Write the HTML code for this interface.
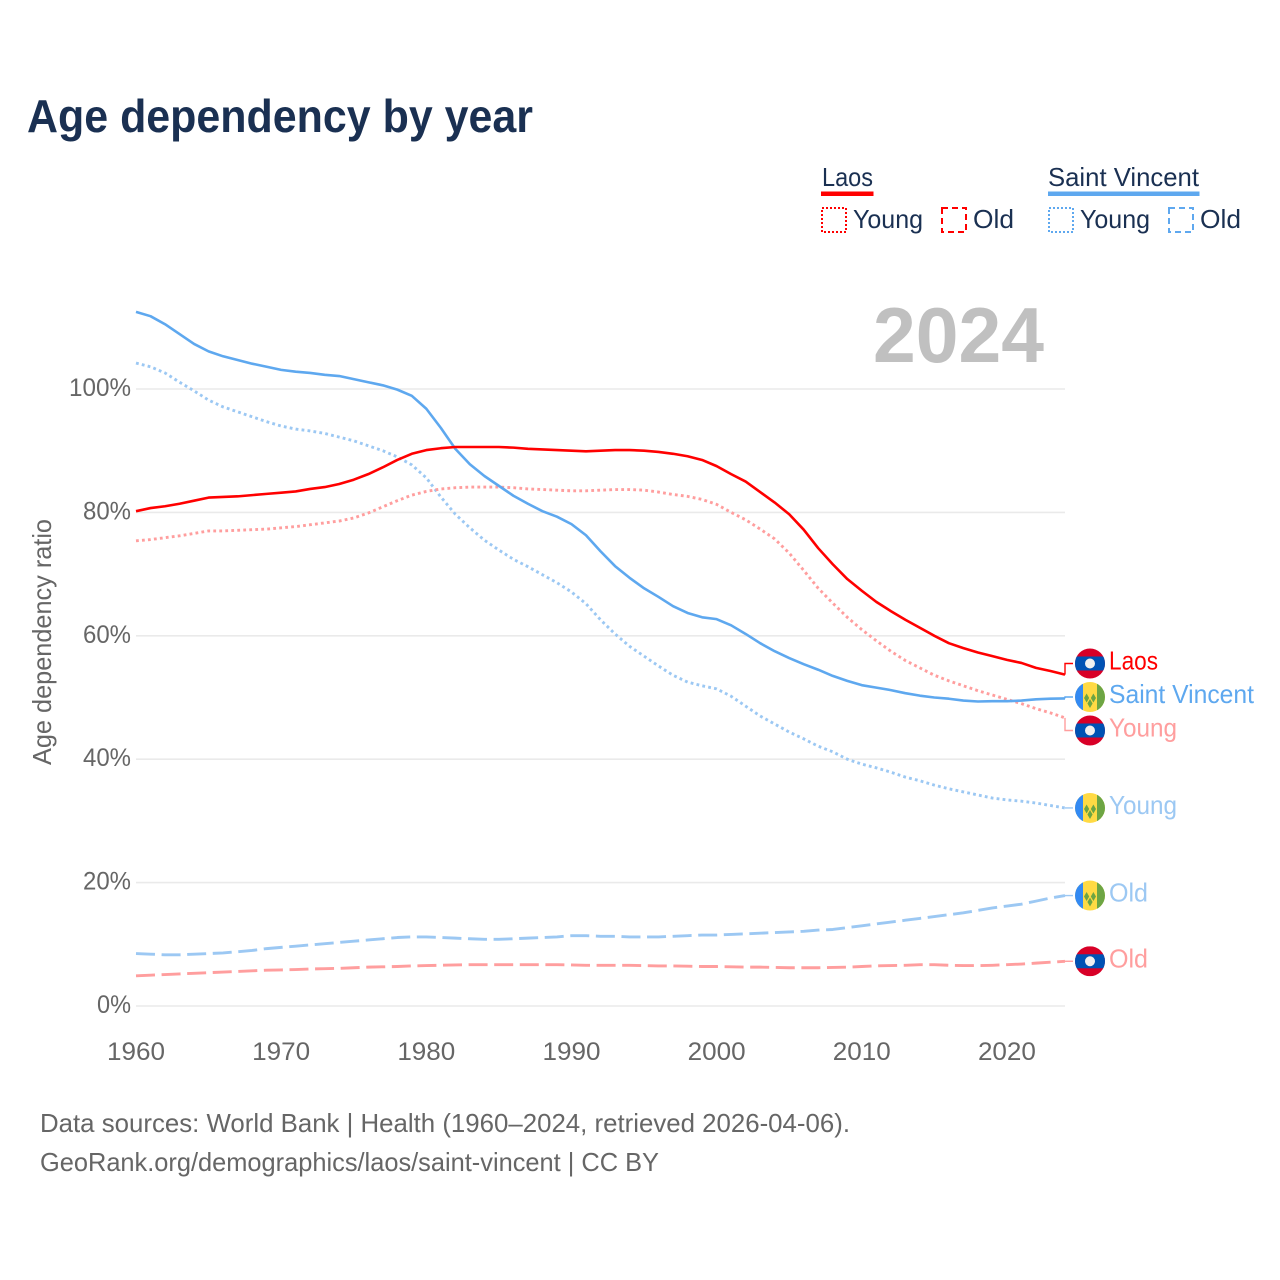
<!DOCTYPE html>
<html lang="en">
<head>
<meta charset="utf-8">
<title>Age dependency by year</title>
<style>
html,body{margin:0;padding:0;background:#fff;width:1280px;height:1280px;overflow:hidden}
svg{display:block}
text{font-family:"Liberation Sans",sans-serif}
</style>
</head>
<body>
<svg id="chart" xmlns="http://www.w3.org/2000/svg" width="1280" height="1280" viewBox="0 0 1280 1280">
  <rect x="0" y="0" width="1280" height="1280" fill="#fff"/>
  <text x="27" y="132" font-size="46" font-weight="700" fill="#1a3052" textLength="506" lengthAdjust="spacingAndGlyphs">Age dependency by year</text>

  <g font-size="26" fill="#1a3052">
    <text x="822" y="186" textLength="51" lengthAdjust="spacingAndGlyphs">Laos</text>
    <rect x="821" y="191.5" width="52.5" height="4.5" fill="#ff0000"/>
    <rect x="822" y="208" width="24" height="24" fill="none" stroke="#ff0000" stroke-width="2" stroke-dasharray="2 2"/>
    <text x="853" y="228" textLength="70" lengthAdjust="spacingAndGlyphs">Young</text>
    <rect x="942" y="208" width="24" height="24" fill="none" stroke="#ff0000" stroke-width="2" stroke-dasharray="6 4"/>
    <text x="973" y="228" textLength="41" lengthAdjust="spacingAndGlyphs">Old</text>
    <text x="1048" y="186" textLength="151" lengthAdjust="spacingAndGlyphs">Saint Vincent</text>
    <rect x="1048" y="191.5" width="151.5" height="4.5" fill="#5ea8ef"/>
    <rect x="1049" y="208" width="24" height="24" fill="none" stroke="#5ea8ef" stroke-width="2" stroke-dasharray="2 2"/>
    <text x="1080" y="228" textLength="70" lengthAdjust="spacingAndGlyphs">Young</text>
    <rect x="1169" y="208" width="24" height="24" fill="none" stroke="#5ea8ef" stroke-width="2" stroke-dasharray="6 4"/>
    <text x="1200" y="228" textLength="41" lengthAdjust="spacingAndGlyphs">Old</text>
  </g>

  <text x="873" y="362" font-size="78" font-weight="700" fill="#c0c0c0" textLength="171" lengthAdjust="spacingAndGlyphs">2024</text>

  <g id="grid"></g>
  <g id="y-ticks"></g>
  <g id="x-ticks"></g>
  <text transform="translate(51,765) rotate(-90)" font-size="26" fill="#666" textLength="246" lengthAdjust="spacingAndGlyphs">Age dependency ratio</text>
  <g id="lines"></g>
  <g id="labels"></g>

  <text x="40" y="1132" font-size="26" fill="#666" textLength="810" lengthAdjust="spacingAndGlyphs">Data sources: World Bank | Health (1960–2024, retrieved 2026-04-06).</text>
  <text x="40" y="1171" font-size="26" fill="#666" textLength="619" lengthAdjust="spacingAndGlyphs">GeoRank.org/demographics/laos/saint-vincent | CC BY</text>
</svg>
<script>
const startYear = 1960;
const endYear = 2024;
const xTickYears = [1960, 1970, 1980, 1990, 2000, 2010, 2020];
const yTickValues = [0, 20, 40, 60, 80, 100];

const laosTotal = [
  80.2,80.7,81.0,81.4,81.9,82.4,82.5,82.6,82.8,83.0,
  83.2,83.4,83.8,84.1,84.6,85.3,86.2,87.3,88.5,89.5,
  90.1,90.4,90.6,90.6,90.6,90.6,90.5,90.3,90.2,90.1,
  90.0,89.9,90.0,90.1,90.1,90.0,89.8,89.5,89.1,88.5,
  87.5,86.2,85.0,83.3,81.6,79.7,77.2,74.2,71.6,69.2,
  67.3,65.5,64.0,62.6,61.3,60.0,58.8,58.0,57.3,56.7,
  56.1,55.6,54.8,54.3,53.7
];
const laosYoung = [
  75.4,75.6,75.9,76.2,76.6,77.0,77.0,77.1,77.2,77.3,
  77.5,77.7,78.0,78.3,78.6,79.1,79.9,80.9,81.9,82.8,
  83.4,83.8,84.0,84.1,84.1,84.1,84.0,83.8,83.7,83.6,
  83.5,83.5,83.6,83.7,83.7,83.6,83.3,82.9,82.6,82.1,
  81.3,80.0,78.8,77.3,75.7,73.4,70.6,67.7,65.3,63.0,
  61.0,59.2,57.5,56.0,54.8,53.6,52.7,51.9,51.1,50.4,
  49.7,49.0,48.2,47.5,46.7
];
const laosOld = [
  4.9,5.0,5.1,5.2,5.3,5.4,5.5,5.6,5.7,5.8,
  5.85,5.9,6.0,6.05,6.1,6.2,6.3,6.35,6.4,6.5,
  6.55,6.6,6.65,6.7,6.7,6.7,6.7,6.7,6.7,6.7,
  6.65,6.6,6.6,6.6,6.6,6.55,6.5,6.5,6.45,6.4,
  6.4,6.35,6.3,6.3,6.25,6.2,6.2,6.2,6.25,6.3,
  6.4,6.5,6.55,6.6,6.7,6.7,6.6,6.55,6.55,6.6,
  6.7,6.8,6.95,7.1,7.25
];
const vincentTotal = [
  112.5,111.8,110.5,108.9,107.3,106.1,105.3,104.7,104.1,103.6,
  103.1,102.8,102.6,102.3,102.1,101.6,101.1,100.6,99.9,98.9,
  96.8,93.7,90.3,87.8,85.9,84.3,82.7,81.4,80.2,79.3,
  78.1,76.3,73.7,71.3,69.4,67.7,66.3,64.8,63.7,63.0,
  62.7,61.7,60.3,58.8,57.5,56.4,55.4,54.5,53.5,52.7,
  52.0,51.6,51.2,50.7,50.3,50.0,49.8,49.5,49.35,49.4,
  49.4,49.5,49.7,49.8,49.85
];
const vincentYoung = [
  104.2,103.6,102.6,101.1,99.7,98.2,97.1,96.3,95.5,94.7,
  94.0,93.5,93.2,92.8,92.2,91.6,90.8,90.0,89.0,87.7,
  85.6,82.5,79.7,77.5,75.5,73.9,72.4,71.2,69.9,68.6,
  67.1,65.2,62.6,60.3,58.3,56.7,55.1,53.6,52.5,51.9,
  51.4,50.2,48.6,47.0,45.7,44.4,43.3,42.1,41.2,40.0,
  39.2,38.6,37.9,37.1,36.5,35.8,35.2,34.7,34.2,33.7,
  33.4,33.2,32.9,32.5,32.1
];
const vincentOld = [
  8.5,8.4,8.3,8.3,8.4,8.5,8.6,8.8,9.0,9.3,
  9.5,9.7,9.9,10.1,10.3,10.5,10.7,10.9,11.1,11.2,
  11.2,11.1,11.0,10.9,10.8,10.8,10.9,11.0,11.1,11.2,
  11.4,11.4,11.3,11.3,11.2,11.2,11.2,11.3,11.4,11.5,
  11.5,11.6,11.7,11.8,11.9,12.0,12.1,12.3,12.4,12.7,
  13.0,13.3,13.6,13.9,14.2,14.5,14.8,15.1,15.5,15.9,
  16.2,16.5,17.0,17.5,17.9
];

const NS = 'http://www.w3.org/2000/svg';
const xLeft = 136, xRight = 1065, yZero = 1006, yHundred = 389;
function xScale(year) { return xLeft + (year - startYear) * (xRight - xLeft) / (endYear - startYear); }
function yScale(v) { return yZero + v * (yHundred - yZero) / 100; }
function make(tag, attrs, parent) {
  const el = document.createElementNS(NS, tag);
  for (const k in attrs) el.setAttribute(k, attrs[k]);
  parent.appendChild(el);
  return el;
}
const svg = document.getElementById('chart');
const gridG = document.getElementById('grid');
const yG = document.getElementById('y-ticks');
const xG = document.getElementById('x-ticks');
const linesG = document.getElementById('lines');
const labelsG = document.getElementById('labels');

yTickValues.forEach(function (v) {
  const line = make('line', {x1: xLeft, x2: xRight, y1: yScale(v), y2: yScale(v), stroke: '#eaeaea', 'stroke-width': 1.6}, gridG);
  
  
  const s = v + '%';
  const t = make('text', {x: 131, y: yScale(v) + 7, 'font-size': 25, fill: '#666', 'text-anchor': 'end', textLength: 14 * String(v).length + 20, lengthAdjust: 'spacingAndGlyphs'}, yG);
  t.textContent = s;
  
  
});

xTickYears.forEach(function (yr) {
  const t = make('text', {x: xScale(yr), y: 1060, 'font-size': 25, fill: '#666', 'text-anchor': 'middle', textLength: 58, lengthAdjust: 'spacingAndGlyphs'}, xG);
  t.textContent = yr;
  
  
});

const RED = '#ff0000', BLUE = '#5ea8ef', RED_L = '#ff9e9e', BLUE_L = '#9cc8f3';
const DOT = '2.8 3.2', DASH = '19 6.6';
const seriesList = [
  {id: 'laos-old', values: laosOld, color: RED_L, dash: DASH, label: 'Old', flag: 'laos', w: 39},
  {id: 'saint-vincent-old', values: vincentOld, color: BLUE_L, dash: DASH, label: 'Old', flag: 'vc', w: 39},
  {id: 'saint-vincent-young', values: vincentYoung, color: BLUE_L, dash: DOT, label: 'Young', flag: 'vc', w: 68},
  {id: 'laos-young', values: laosYoung, color: RED_L, dash: DOT, label: 'Young', flag: 'laos', w: 68},
  {id: 'saint-vincent-total', values: vincentTotal, color: BLUE, dash: null, label: 'Saint Vincent', flag: 'vc', w: 145},
  {id: 'laos-total', values: laosTotal, color: RED, dash: null, label: 'Laos', flag: 'laos', w: 49}
];

seriesList.forEach(function (s) {
  const pts = s.values.map(function (v, i) { return xScale(startYear + i).toFixed(2) + ',' + yScale(v).toFixed(2); }).join(' ');
  const attrs = {points: pts, fill: 'none', stroke: s.color, 'stroke-width': s.dash ? 2.9 : 2.6, 'stroke-linejoin': 'round'};
  if (s.dash) attrs['stroke-dasharray'] = s.dash;
  const line = make('polyline', attrs, linesG);
  
  
});

/* End-label placement: labels sit at the line end and overlapping ones are spread as a group. */
const minGap = 33.5;
const ordered = seriesList.slice().sort(function (a, b) { return b.values[b.values.length - 1] - a.values[a.values.length - 1]; });
let clusters = ordered.map(function (s) { return {items: [s], mean: yScale(s.values[s.values.length - 1])}; });
let merged = true;
while (merged) {
  merged = false;
  for (let i = 0; i < clusters.length - 1; i++) {
    const a = clusters[i], b = clusters[i + 1];
    const aBottom = a.mean + (a.items.length - 1) * minGap / 2;
    const bTop = b.mean - (b.items.length - 1) * minGap / 2;
    if (bTop - aBottom < minGap) {
      const all = a.items.concat(b.items);
      const sum = all.reduce(function (t, s) { return t + yScale(s.values[s.values.length - 1]); }, 0);
      clusters.splice(i, 2, {items: all, mean: sum / all.length});
      merged = true;
      break;
    }
  }
}
clusters.forEach(function (c) {
  c.items.forEach(function (s, i) { s.labelY = c.mean + (i - (c.items.length - 1) / 2) * minGap; });
});

const defs = make('defs', {}, svg);
function drawFlag(kind, cx, cy, id, name) {
  const clipId = 'clip-' + id;
  const cp = make('clipPath', {id: clipId}, defs);
  make('circle', {cx: cx, cy: cy, r: 15}, cp);
  const g = make('g', {'clip-path': 'url(#' + clipId + ')'}, labelsG);
  
  
  if (kind === 'laos') {
    make('rect', {x: cx - 15, y: cy - 15, width: 30, height: 30, fill: '#d80027'}, g);
    make('rect', {x: cx - 15, y: cy - 7, width: 30, height: 14, fill: '#0052b4'}, g);
    make('circle', {cx: cx, cy: cy, r: 5, fill: '#f0f0f0'}, g);
  } else {
    make('rect', {x: cx - 15, y: cy - 15, width: 30, height: 30, fill: '#ffda44'}, g);
    make('rect', {x: cx - 15, y: cy - 15, width: 8, height: 30, fill: '#338af3'}, g);
    make('rect', {x: cx + 7, y: cy - 15, width: 8, height: 30, fill: '#6da544'}, g);
    [[-3.4, 1], [3.4, 1], [0, 6.5]].forEach(function (o) {
      const dx = cx + o[0], dy = cy + o[1];
      make('polygon', {points: dx + ',' + (dy - 4.5) + ' ' + (dx + 2.6) + ',' + dy + ' ' + dx + ',' + (dy + 4.5) + ' ' + (dx - 2.6) + ',' + dy, fill: '#6da544'}, g);
    });
  }
}

seriesList.forEach(function (s) {
  const lastV = s.values[s.values.length - 1];
  const endY = yScale(lastV);
  const ly = s.labelY;
  const leader = make('polyline', {points: xRight + ',' + endY.toFixed(2) + ' ' + xRight + ',' + ly.toFixed(2) + ' 1073,' + ly.toFixed(2), fill: 'none', stroke: s.color, 'stroke-width': 1.4}, labelsG);
  
  
  drawFlag(s.flag, 1090, ly, s.id, 'flag-' + s.id);
  const t = make('text', {x: 1109, y: ly + 6, 'font-size': 26, fill: s.color, textLength: s.w, lengthAdjust: 'spacingAndGlyphs'}, labelsG);
  t.textContent = s.label;
  
  
});
</script>
</body>
</html>
